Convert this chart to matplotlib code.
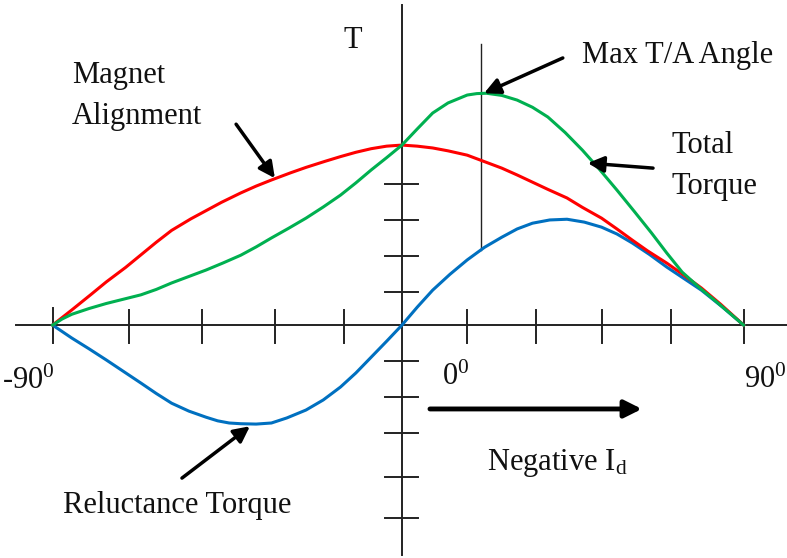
import matplotlib
matplotlib.use("Agg")
import matplotlib.pyplot as plt

plt.rcParams['font.family'] = ['Liberation Serif', 'DejaVu Serif']
plt.rcParams['mathtext.fontset'] = 'custom'
plt.rcParams['mathtext.rm'] = 'Liberation Serif'
plt.rcParams['mathtext.it'] = 'Liberation Serif:italic'

# Кривые момента: угол (град) и момент (усл. ед.)
# Момент от магнитов
red_x = [-91, -86, -81, -77, -72, -68, -64, -60, -55, -51, -47, -42, -38, -34,
         -29, -25, -20, -16, -12, -8, -4, 0,
         4, 8, 12, 17, 21, 26, 30, 34, 38, 43, 47, 52, 56, 60, 64, 69, 73, 78, 83, 89]
red_y = [0, 0.42, 0.85, 1.2, 1.6, 1.95, 2.3, 2.63, 2.95, 3.18, 3.41, 3.67, 3.86, 4.03,
         4.23, 4.38, 4.55, 4.68, 4.8, 4.9, 4.97, 5.0,
         4.97, 4.92, 4.84, 4.72, 4.56, 4.36, 4.17, 3.97, 3.77, 3.53, 3.27, 2.97, 2.67,
         2.36, 2.06, 1.72, 1.42, 1.03, 0.58, 0]

# Суммарный момент
green_x = [-91, -88.5, -86, -81.5, -77, -72.5, -68, -64, -60, -55.5, -51, -46.5, -42,
           -38, -34, -29.5, -25, -20.5, -16, -12, -8, -4, 0,
           4, 8, 12, 17, 19.5, 22, 26, 30, 34, 38, 42.5, 47, 51.5, 56, 60.5, 65, 69,
           73, 77.5, 82, 85.5, 89]
green_y = [0, 0.17, 0.3, 0.46, 0.6, 0.72, 0.84, 0.99, 1.17, 1.35, 1.53, 1.73, 1.94,
           2.17, 2.42, 2.69, 2.97, 3.28, 3.61, 3.95, 4.31, 4.65, 5.0,
           5.45, 5.89, 6.17, 6.39, 6.43, 6.44, 6.38, 6.25, 6.05, 5.78, 5.35, 4.86, 4.32,
           3.75, 3.16, 2.56, 2.0, 1.47, 1.04, 0.64, 0.32, 0]

# Реактивный момент
blue_x = [-91, -88.5, -86, -81.5, -77, -72.5, -68, -64, -60, -55.5, -51, -48, -45,
          -42, -38, -34, -30, -25, -20.5, -16, -12, -8, -4, 0,
          4, 8, 12.5, 17, 21.5, 26, 30, 34, 38.5, 43, 47.5, 52, 56, 60, 64.5, 69,
          73.5, 78, 83.5, 89]
blue_y = [0, -0.18, -0.36, -0.66, -0.97, -1.29, -1.61, -1.9, -2.17, -2.39, -2.56,
          -2.66, -2.72, -2.74, -2.75, -2.72, -2.58, -2.36, -2.08, -1.72, -1.33, -0.89,
          -0.45, 0,
          0.5, 0.97, 1.41, 1.81, 2.16, 2.44, 2.67, 2.83, 2.92, 2.94, 2.86, 2.72, 2.53,
          2.28, 1.96, 1.61, 1.29, 0.97, 0.5, 0]

# Засечки на осях
x_ticks = [-91, -71, -52, -33, -15, 17, 35, 52, 70, 89]
y_ticks = [3.92, 2.92, 1.92, 0.92, -1.01, -2.01, -3.01, -4.23, -5.37]

# Угол максимума T/A
max_ta_angle = 20.5

fig = plt.figure(figsize=(7.87, 5.58), dpi=100)
ax = fig.add_axes([0, 0, 1, 1])
ax.set_xlim(-104.7, 100.3)
ax.set_ylim(-6.47, 9.03)
ax.axis('off')

# Оси
ax.plot([-100.5, 100.3], [0, 0], color='#222222', lw=1.4)
ax.plot([0, 0], [-6.39, 8.9], color='#222222', lw=1.4)
for t in x_ticks:
    top = 0.47 if t == x_ticks[0] else 0.42
    ax.plot([t, t], [top, -0.5], color='#222222', lw=1.4)
for t in y_ticks:
    ax.plot([-4.5, 4.3], [t, t], color='#222222', lw=1.4)

# Вертикаль угла максимума T/A
ax.plot([max_ta_angle, max_ta_angle], [2.08, 7.8], color='#222222', lw=1.0)

ax.plot(blue_x, blue_y, color='#0070C0', lw=2.2, solid_joinstyle='round')
ax.plot(red_x, red_y, color='#FF0000', lw=2.2, solid_joinstyle='round')
ax.plot(green_x, green_y, color='#00B050', lw=2.2, solid_joinstyle='round')

fs = 22
txt = dict(fontsize=fs, ha='left', va='baseline', color='#111111')
ax.text(-15.1, 7.7, "T", **txt)
ax.text(-85.9, 6.72, "Magnet", **txt)
ax.text(-85.9, 5.58, "Alignment", **txt)
ax.text(46.9, 7.28, "Max T/A Angle", **txt)
ax.text(70.3, 4.78, "Total", **txt)
ax.text(70.3, 3.64, "Torque", **txt)
ax.text(-104.2, -1.78, "-90$^0$", **txt)
ax.text(10.4, -1.67, "0$^0$", **txt)
ax.text(89.1, -1.75, "90$^0$", **txt)
ax.text(22.1, -4.03, r"Negative I$_\mathrm{d}$", **txt)
ax.text(-88.3, -5.22, "Reluctance Torque", **txt)

arrow = dict(arrowstyle='-|>', color='black', lw=2.5, mutation_scale=24,
             shrinkA=0, shrinkB=0)
ax.annotate("", xy=(-33.1, 4.08), xytext=(-43.2, 5.58), arrowprops=arrow)
ax.annotate("", xy=(21.4, 6.44), xytext=(41.9, 7.42), arrowprops=arrow)
ax.annotate("", xy=(48.4, 4.5), xytext=(65.4, 4.36), arrowprops=arrow)
ax.annotate("", xy=(-39.6, -2.81), xytext=(-57.3, -4.25), arrowprops=arrow)
ax.annotate("", xy=(62.5, -2.33), xytext=(7.3, -2.33),
            arrowprops=dict(arrowstyle='-|>', color='black', lw=3.5,
                            mutation_scale=26, shrinkA=0, shrinkB=0))

fig.savefig("out.png", dpi=100, facecolor='white')
